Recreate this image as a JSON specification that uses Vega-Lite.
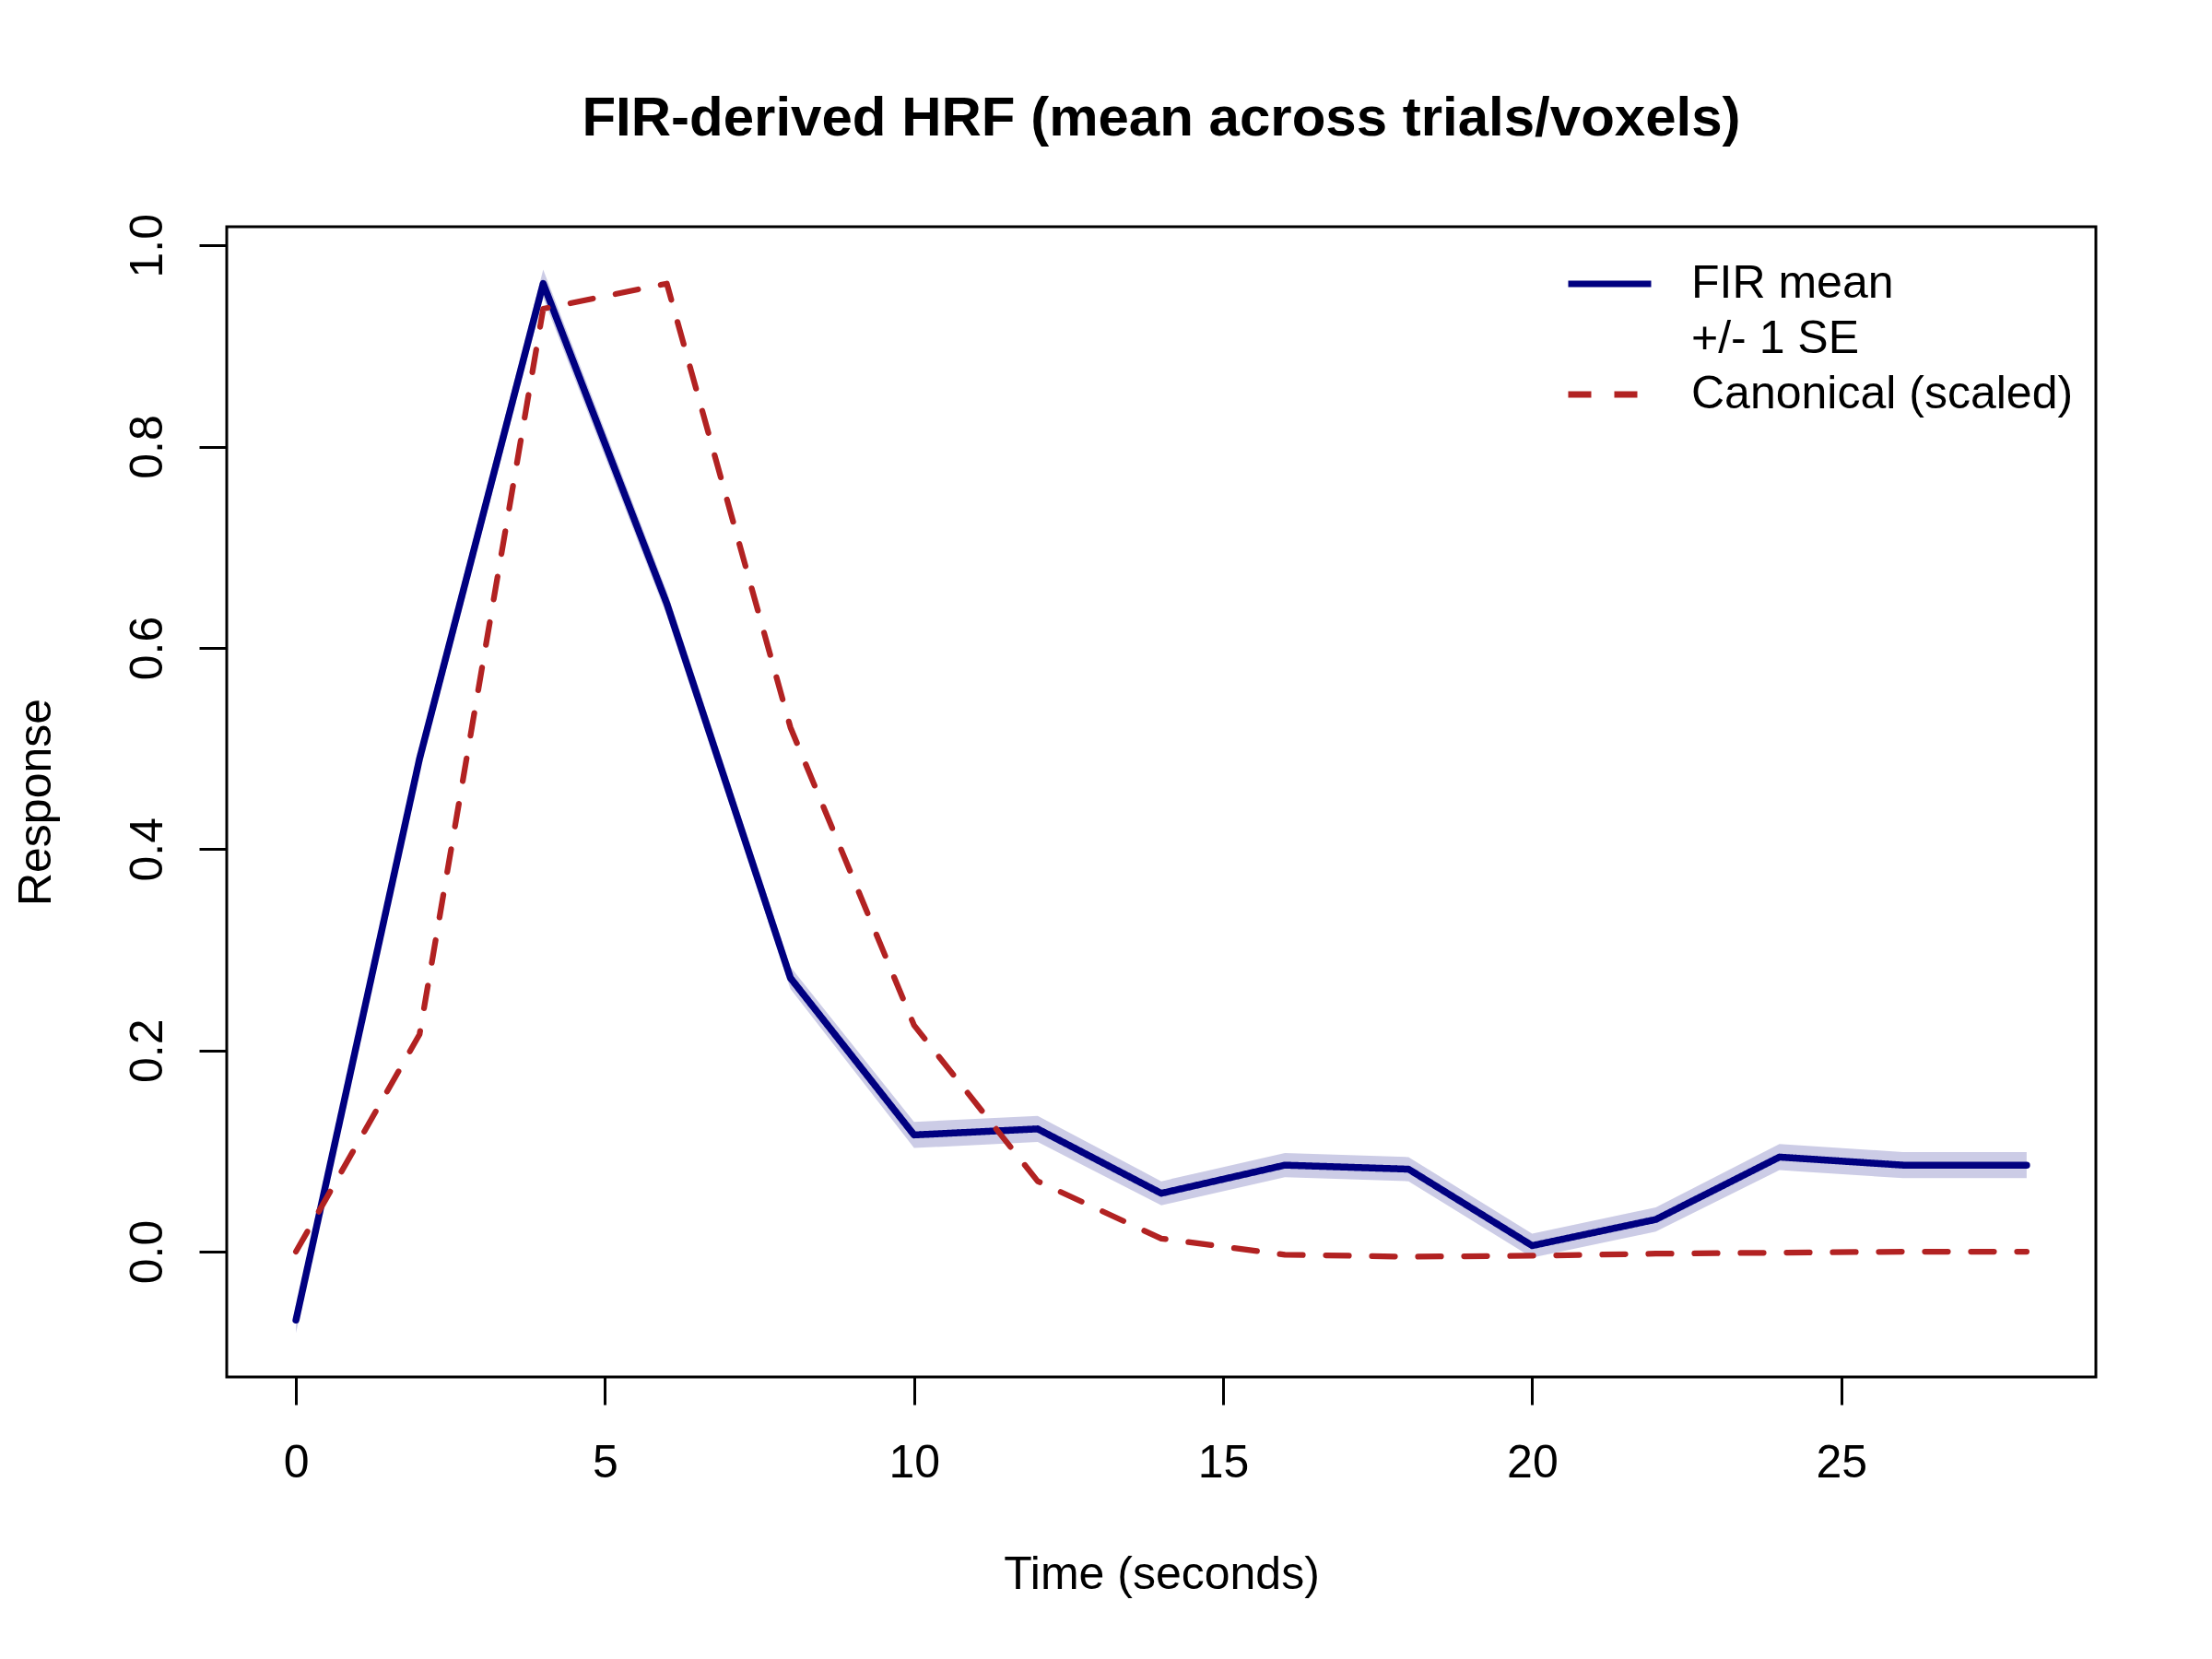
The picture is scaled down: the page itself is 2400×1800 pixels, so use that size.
{
  "$schema": "https://vega.github.io/schema/vega-lite/v6.json",
  "width": 2028,
  "height": 1248,
  "autosize": {"type": "none"},
  "padding": {"left": 246, "top": 246, "right": 126, "bottom": 306},
  "background": "white",
  "title": {
    "text": "FIR-derived HRF (mean across trials/voxels)",
    "font": "Liberation Sans",
    "fontSize": 60,
    "fontWeight": "bold",
    "color": "black",
    "anchor": "middle",
    "frame": "group",
    "baseline": "alphabetic",
    "offset": 24
  },
  "config": {
    "font": "Liberation Sans",
    "view": {"stroke": "black", "strokeWidth": 3},
    "axis": {
      "labelFont": "Liberation Sans",
      "labelFontSize": 50,
      "labelColor": "black",
      "titleFont": "Liberation Sans",
      "titleFontSize": 50,
      "titleFontWeight": "normal",
      "titleColor": "black",
      "tickColor": "black",
      "tickWidth": 3,
      "tickSize": 30,
      "domain": false,
      "grid": false,
      "labelOverlap": false,
      "labelFlush": false
    },
    "legend": {
      "labelFont": "Liberation Sans",
      "labelFontSize": 50,
      "labelColor": "black",
      "labelLimit": 0,
      "padding": 0,
      "rowPadding": 0,
      "clipHeight": 60,
      "labelOffset": 40,
      "symbolType": "stroke",
      "symbolSize": 8100,
      "symbolStrokeWidth": 7,
      "symbolStrokeCap": "round"
    }
  },
  "datasets": {
    "band": [
      {"t": 0, "lower": -0.081, "upper": -0.055},
      {"t": 2, "lower": 0.478, "upper": 0.502},
      {"t": 4, "lower": 0.948, "upper": 0.976},
      {"t": 6, "lower": 0.632, "upper": 0.656},
      {"t": 8, "lower": 0.261, "upper": 0.283},
      {"t": 10, "lower": 0.103, "upper": 0.129},
      {"t": 12, "lower": 0.109, "upper": 0.135},
      {"t": 14, "lower": 0.046, "upper": 0.070},
      {"t": 16, "lower": 0.074, "upper": 0.098},
      {"t": 18, "lower": 0.070, "upper": 0.094},
      {"t": 20, "lower": -0.006, "upper": 0.018},
      {"t": 22, "lower": 0.020, "upper": 0.044},
      {"t": 24, "lower": 0.081, "upper": 0.107},
      {"t": 26, "lower": 0.073, "upper": 0.099},
      {"t": 28, "lower": 0.073, "upper": 0.099}
    ],
    "fir": [
      {"t": 0, "response": -0.068, "series": "FIR mean"},
      {"t": 2, "response": 0.490, "series": "FIR mean"},
      {"t": 4, "response": 0.962, "series": "FIR mean"},
      {"t": 6, "response": 0.644, "series": "FIR mean"},
      {"t": 8, "response": 0.272, "series": "FIR mean"},
      {"t": 10, "response": 0.116, "series": "FIR mean"},
      {"t": 12, "response": 0.122, "series": "FIR mean"},
      {"t": 14, "response": 0.058, "series": "FIR mean"},
      {"t": 16, "response": 0.086, "series": "FIR mean"},
      {"t": 18, "response": 0.082, "series": "FIR mean"},
      {"t": 20, "response": 0.006, "series": "FIR mean"},
      {"t": 22, "response": 0.032, "series": "FIR mean"},
      {"t": 24, "response": 0.094, "series": "FIR mean"},
      {"t": 26, "response": 0.086, "series": "FIR mean"},
      {"t": 28, "response": 0.086, "series": "FIR mean"}
    ],
    "canonical": [
      {"t": 0, "response": 0.000, "series": "Canonical (scaled)"},
      {"t": 2, "response": 0.216, "series": "Canonical (scaled)"},
      {"t": 4, "response": 0.937, "series": "Canonical (scaled)"},
      {"t": 6, "response": 0.962, "series": "Canonical (scaled)"},
      {"t": 8, "response": 0.521, "series": "Canonical (scaled)"},
      {"t": 10, "response": 0.225, "series": "Canonical (scaled)"},
      {"t": 12, "response": 0.070, "series": "Canonical (scaled)"},
      {"t": 14, "response": 0.013, "series": "Canonical (scaled)"},
      {"t": 16, "response": -0.003, "series": "Canonical (scaled)"},
      {"t": 18, "response": -0.005, "series": "Canonical (scaled)"},
      {"t": 20, "response": -0.004, "series": "Canonical (scaled)"},
      {"t": 22, "response": -0.002, "series": "Canonical (scaled)"},
      {"t": 24, "response": -0.001, "series": "Canonical (scaled)"},
      {"t": 26, "response": 0.000, "series": "Canonical (scaled)"},
      {"t": 28, "response": 0.000, "series": "Canonical (scaled)"}
    ]
  },
  "encoding": {
    "x": {
      "field": "t",
      "type": "quantitative",
      "title": "Time (seconds)",
      "scale": {"domain": [-1.12, 29.12], "nice": false, "zero": false},
      "axis": {
        "values": [0, 5, 10, 15, 20, 25],
        "format": "d",
        "labelBaseline": "alphabetic",
        "labelPadding": 78,
        "titleX": 1014,
        "titleY": 229,
        "titleBaseline": "alphabetic",
        "titleAlign": "center"
      }
    },
    "y": {
      "field": "response",
      "type": "quantitative",
      "title": "Response",
      "scale": {"domain": [-0.1245, 1.0185], "nice": false, "zero": false},
      "axis": {
        "values": [0, 0.2, 0.4, 0.6, 0.8, 1.0],
        "format": ".1f",
        "labelAngle": -90,
        "labelAlign": "center",
        "labelBaseline": "alphabetic",
        "labelPadding": 41,
        "titleX": -192,
        "titleY": 624,
        "titleAngle": -90,
        "titleAlign": "center",
        "titleBaseline": "alphabetic"
      }
    }
  },
  "layer": [
    {
      "data": {"name": "band"},
      "mark": {"type": "area", "color": "#000080", "opacity": 0.2},
      "encoding": {
        "y": {"field": "lower", "type": "quantitative", "title": "Response"},
        "y2": {"field": "upper"}
      }
    },
    {
      "data": {"name": "fir"},
      "mark": {"type": "line", "strokeWidth": 7.5, "strokeCap": "round", "strokeJoin": "round"},
      "encoding": {
        "color": {
          "field": "series",
          "type": "nominal",
          "scale": {
            "domain": ["FIR mean", "+/- 1 SE", "Canonical (scaled)"],
            "range": ["#000080", "rgba(0,0,0,0)", "#B22222"]
          },
          "legend": {"title": null, "orient": "none", "legendX": 1452, "legendY": 32}
        },
        "strokeDash": {
          "field": "series",
          "type": "nominal",
          "scale": {
            "domain": ["FIR mean", "+/- 1 SE", "Canonical (scaled)"],
            "range": [[1, 0], [1, 0], [25, 25]]
          },
          "legend": {"title": null, "orient": "none", "legendX": 1452, "legendY": 32}
        }
      }
    },
    {
      "data": {"name": "canonical"},
      "mark": {"type": "line", "strokeWidth": 6.25, "strokeCap": "round", "strokeJoin": "round"},
      "encoding": {
        "color": {"field": "series", "type": "nominal"},
        "strokeDash": {"field": "series", "type": "nominal"}
      }
    }
  ]
}
